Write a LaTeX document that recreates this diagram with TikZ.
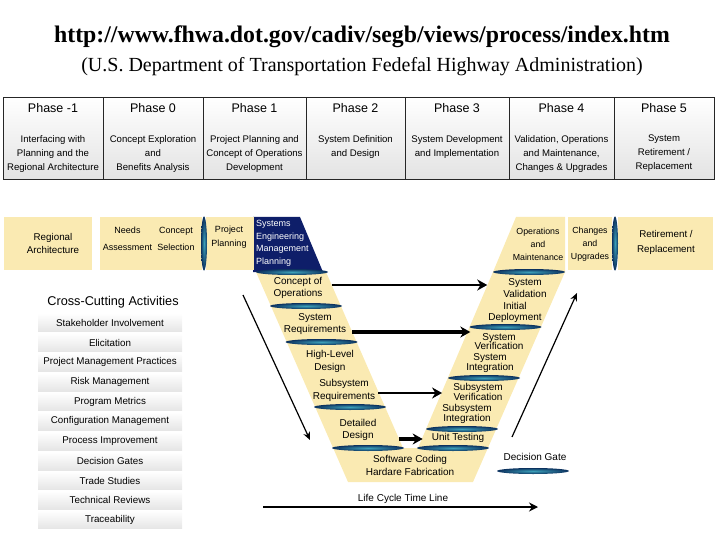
\documentclass[tikz,border=0pt]{standalone}
\usepackage{fontspec}
\setmainfont{Liberation Sans}
\newfontfamily\headserif{Liberation Serif}
\usetikzlibrary{arrows.meta,shapes.geometric,positioning}
\definecolor{vyellow}{RGB}{250,234,178}
\definecolor{sempblue}{RGB}{14,30,105}
\definecolor{gatelight}{RGB}{60,160,185}
\definecolor{gatedark}{RGB}{12,50,95}
\tikzset{
  urltext/.style={font=\headserif\bfseries\fontsize{23.8}{26}\selectfont,inner sep=0pt},
  agencytext/.style={font=\headserif\fontsize{20}{23}\selectfont,inner sep=0pt},
  phasecell/.style={rectangle,draw=black!85,line width=0.8pt,
    top color=white,bottom color=black!11,minimum height=82,inner sep=0pt},
  phasehead/.style={font=\fontsize{12.5}{14}\selectfont,inner sep=0pt},
  phasedesc/.style={anchor=north,align=center,
    font=\fontsize{9.6}{14}\selectfont,inner sep=0pt},
  stagebox/.style={rectangle,fill=vyellow,minimum height=53,inner sep=0pt},
  stagetext/.style={align=center,font=\fontsize{9}{13}\selectfont,inner sep=0pt},
  vtext/.style={align=center,font=\fontsize{10}{12.5}\selectfont,inner sep=0pt},
  gate/.style={ellipse,inner sep=0pt,minimum width=72,minimum height=6,
    inner color=gatelight,outer color=gatedark},
  vgate/.style={gate,minimum width=6,minimum height=54},
  ccbar/.style={rectangle,minimum width=144,minimum height=18,inner sep=0pt,
    top color=white,bottom color=black!10,font=\fontsize{9.8}{11}\selectfont},
  linkarrow/.style={-{Stealth[length=10pt,width=11pt]},line width=3pt},
  flowarrow/.style={-{Stealth[length=8pt,width=7pt]},line width=1.2pt}
}

\begin{document}
\begin{tikzpicture}[x=1pt,y=-1pt]
  \useasboundingbox (0,0) rectangle (720,540);

  % source heading
  \node[urltext] (url) at (362,37)
    {http://www.fhwa.dot.gov/cadiv/segb/views/process/index.htm};
  \node[agencytext] (agency) at (362,67)
    {(U.S. Department of Transportation Fedefal Highway Administration)};

  % phase table
  \node[phasecell,minimum width=100] (pm1) at (53,138) {};
  \node[phasecell,minimum width=100] (p0) at (153,138) {};
  \node[phasecell,minimum width=103] (p1) at (254.5,138) {};
  \node[phasecell,minimum width=99] (p2) at (355.5,138) {};
  \node[phasecell,minimum width=104] (p3) at (457,138) {};
  \node[phasecell,minimum width=105] (p4) at (561.5,138) {};
  \node[phasecell,minimum width=100] (p5) at (664,138) {};

  \node[phasehead] (pm1head) at (53,108) {Phase -1};
  \node[phasehead] (p0head) at (153,108) {Phase 0};
  \node[phasehead] (p1head) at (254.5,108) {Phase 1};
  \node[phasehead] (p2head) at (355.5,108) {Phase 2};
  \node[phasehead] (p3head) at (457,108) {Phase 3};
  \node[phasehead] (p4head) at (561.5,108) {Phase 4};
  \node[phasehead] (p5head) at (664,108) {Phase 5};

  \node[phasedesc] (pm1desc) at (53,135)
    {Interfacing with\\Planning and the\\Regional Architecture};
  \node[phasedesc] (p0desc) at (153,135)
    {Concept Exploration\\and\\Benefits Analysis};
  \node[phasedesc] (p1desc) at (254.5,135)
    {Project Planning and\\Concept of Operations\\Development};
  \node[phasedesc] (p2desc) at (355.5,135) {System Definition\\and Design};
  \node[phasedesc] (p3desc) at (457,135) {System Development\\and Implementation};
  \node[phasedesc] (p4desc) at (561.5,135)
    {Validation, Operations\\and Maintenance,\\Changes \& Upgrades};
  \node[phasedesc] (p5desc) at (664,135) {System\\Retirement /\\Replacement};

  % V band and stage boxes
  \fill[vyellow] (256,272) -- (326,272) -- (403,448) -- (418,448) -- (493,272)
    -- (565,272) -- (473,482) -- (348,482) -- cycle;
  \fill[vyellow] (516,217) -- (565,217) -- (565,272) -- (493,272) -- cycle;
  \fill[sempblue] (253,217) -- (300,217) -- (323,272) -- (253,272) -- cycle;

  \node[stagebox,minimum width=88] (regbox) at (48,243.5) {};
  \node[stagebox,minimum width=102] (needsbox) at (151,243.5) {};
  \node[stagebox,minimum width=48] (projbox) at (230,243.5) {};
  \node[stagebox,minimum width=44] (chgbox) at (590,243.5) {};
  \node[stagebox,minimum width=95] (retbox) at (665.5,243.5) {};
  \node[vgate] (gatea) at (204,243.5) {};
  \node[vgate] (gateb) at (615,243.5) {};

  \node[stagetext,font=\fontsize{9.8}{13}\selectfont] (regtext) at (53,243.5)
    {Regional\\Architecture};
  \node[stagetext,font=\fontsize{9}{17}\selectfont] (needstext) at (127.5,239)
    {Needs\\Assessment};
  \node[stagetext,font=\fontsize{9}{17}\selectfont] (concsel) at (176,239)
    {Concept\\Selection};
  \node[stagetext,font=\fontsize{9}{13.5}\selectfont] (projtext) at (229,237)
    {Project\\Planning};
  \node[stagetext,align=left,anchor=west,text=white,
    font=\fontsize{9}{12.5}\selectfont] (semptext) at (256,243.5)
    {Systems\\Engineering\\Management\\Planning};
  \node[stagetext,font=\fontsize{8.8}{13}\selectfont] (opstext) at (538,244)
    {Operations\\and\\Maintenance};
  \node[stagetext,font=\fontsize{8.8}{13}\selectfont] (chgtext) at (590,244)
    {Changes\\and\\Upgrades};
  \node[stagetext,font=\fontsize{9.8}{15}\selectfont] (rettext) at (666,242.5)
    {Retirement /\\Replacement};

  % decision gates along the V
  \node[gate] (gl1) at (292,272) {};
  \node[gate] (gl2) at (306,306) {};
  \node[gate] (gl3) at (321.5,342) {};
  \node[gate] (gl4) at (350,407) {};
  \node[gate] (gl5) at (368,448) {};
  \node[gate] (gr1) at (529,272) {};
  \node[gate] (gr2) at (505.5,327) {};
  \node[gate] (gr3) at (484,378) {};
  \node[gate] (gr4) at (462,429) {};
  \node[gate] (gr5) at (453,448) {};

  % V stages
  \node[vtext] (conops) at (298,288) {Concept of\\Operations};
  \node[vtext] (sysreq) at (315,324) {System\\Requirements};
  \node[vtext] (hld) at (330,361.5) {High-Level\\Design};
  \node[vtext] (subreq) at (344,390.5) {Subsystem\\Requirements};
  \node[vtext] (detdes) at (358,430) {Detailed\\Design};
  \node[vtext] (swhw) at (410,465.5) {Software Coding\\Hardare Fabrication};
  \node[vtext] (unittest) at (458,438) {Unit Testing};
  \node[vtext,font=\fontsize{10}{10}\selectfont] (subint) at (467,414)
    {Subsystem\\Integration};
  \node[vtext,font=\fontsize{10}{10}\selectfont] (subver) at (478,392)
    {Subsystem\\Verification};
  \node[vtext,font=\fontsize{10}{10}\selectfont] (sysint) at (490,363)
    {System\\Integration};
  \node[vtext,font=\fontsize{10}{9.5}\selectfont] (sysver) at (499,341.5)
    {System\\Verification};
  \node[vtext,font=\fontsize{10}{11}\selectfont] (initdep) at (515,312.5)
    {Initial\\Deployment};
  \node[vtext,font=\fontsize{10}{12}\selectfont] (sysval) at (525,288)
    {System\\Validation};

  \draw[linkarrow,line width=2.4pt] ([xshift=9pt,yshift=3pt]conops.east)
    -- ([xshift=-16pt,yshift=3pt]conops.east -| sysval.west);
  \draw[linkarrow,line width=3.5pt] ([xshift=6pt,yshift=-8pt]sysreq.east)
    -- ([xshift=-4pt,yshift=-8pt]sysreq.east -| sysver.west);
  \draw[linkarrow,line width=2pt] ([xshift=3pt,yshift=-2.5pt]subreq.east)
    -- ([xshift=-11pt,yshift=-2.5pt]subreq.east -| subver.west);
  \draw[linkarrow,line width=3.5pt] ([xshift=22pt,yshift=-9pt]detdes.east)
    -- ([xshift=-9pt,yshift=-9pt]detdes.east -| unittest.west);

  \coordinate (dnstart) at (243,295);
  \coordinate (dnend) at (310,440);
  \coordinate (upstart) at (512,437);
  \coordinate (upend) at (577,293);
  \draw[flowarrow] (dnstart) -- (dnend);
  \draw[flowarrow] (upstart) -- (upend);

  % legend and time line
  \node[vtext] (gatelabel) at (535,457) {Decision Gate};
  \node[gate] (gatekey) at (533,471) {};
  \coordinate (tlstart) at (263,507);
  \coordinate (tlend) at (538,507);
  \draw[-{Stealth[length=9pt,width=9pt]},line width=1.8pt] (tlstart) -- (tlend);
  \node[vtext] (tllabel) at (403,499) {Life Cycle Time Line};

  % cross-cutting activities
  \node[font=\fontsize{12.7}{14}\selectfont,inner sep=0pt] (cctitle) at (113,302)
    {Cross-Cutting Activities};
  \node[ccbar] (cc1) at (110,322.5) {Stakeholder Involvement};
  \node[ccbar] (cc2) at (110,342.5) {Elicitation};
  \node[ccbar] (cc3) at (110,362) {Project Management Practices};
  \node[ccbar] (cc4) at (110,382) {Risk Management};
  \node[ccbar] (cc5) at (110,401.5) {Program Metrics};
  \node[ccbar] (cc6) at (110,421) {Configuration Management};
  \node[ccbar] (cc7) at (110,441) {Process Improvement};
  \node[ccbar] (cc8) at (110,461) {Decision Gates};
  \node[ccbar] (cc9) at (110,480.5) {Trade Studies};
  \node[ccbar] (cc10) at (110,500) {Technical Reviews};
  \node[ccbar] (cc11) at (110,519.5) {Traceability};
\end{tikzpicture}
\end{document}
